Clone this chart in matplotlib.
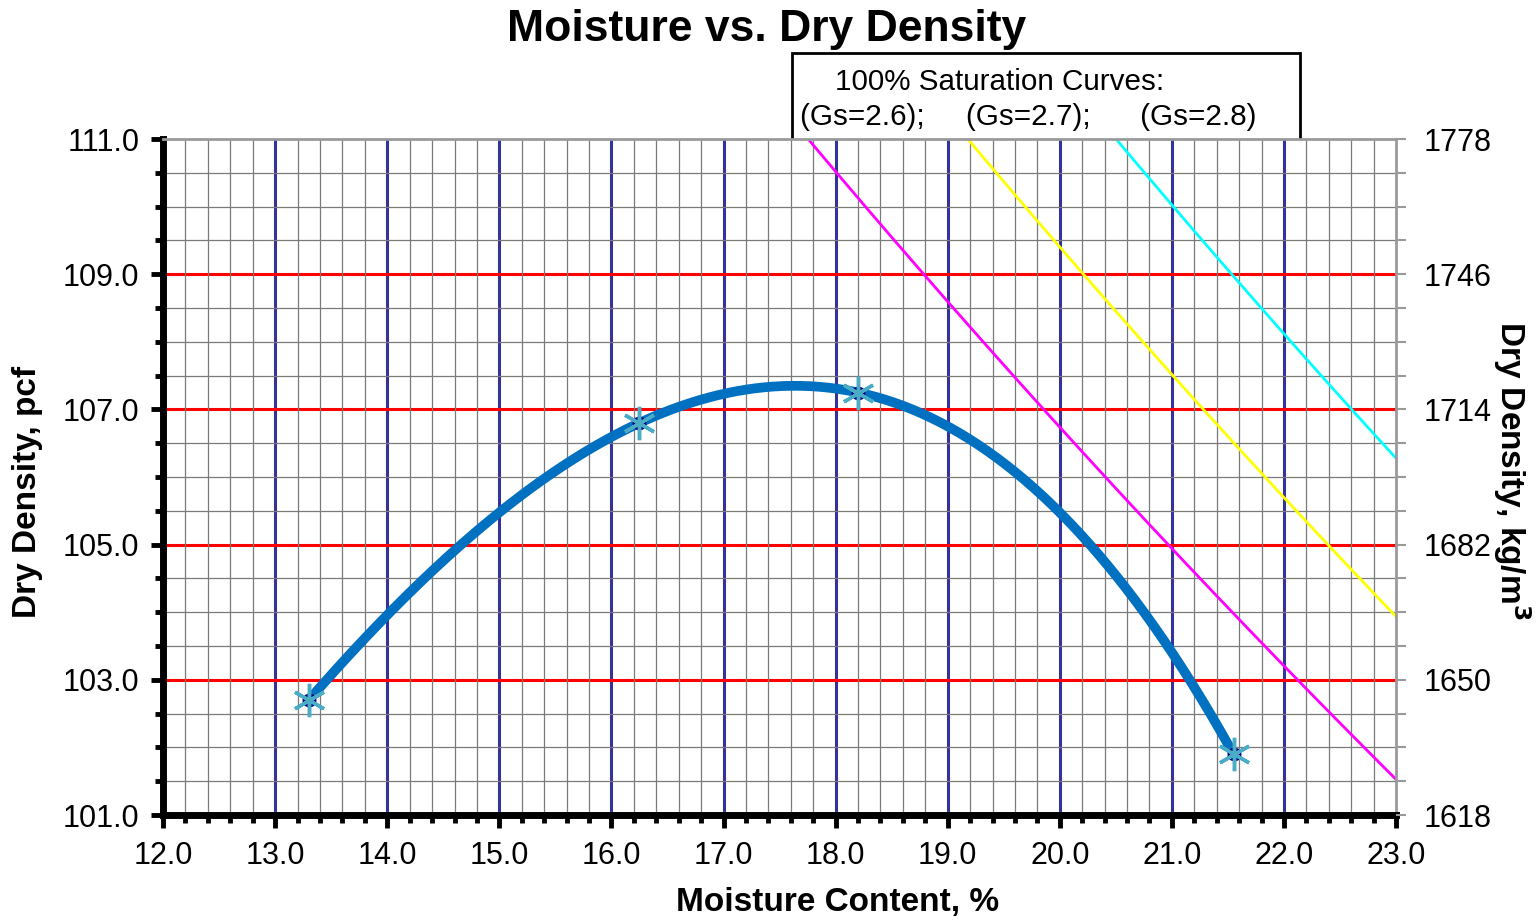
import numpy as np
import matplotlib.pyplot as plt
from matplotlib.ticker import MultipleLocator

plt.rcParams["font.family"] = ["Liberation Sans", "DejaVu Sans"]

# compaction test results
moisture = [13.3, 16.25, 18.2, 21.55]        # %
dry_density = [102.7, 106.8, 107.25, 101.9]  # pcf

# zero-air-voids curves
gs_values = [2.6, 2.7, 2.8]
gs_colors = ["#FF00FF", "#FFFF00", "#00FFFF"]
gamma_w = 62.4          # pcf
pcf_to_kgm3 = 16.0185

x_ticks = np.arange(12.0, 23.01, 1.0)
y_ticks = np.arange(101.0, 111.01, 2.0)

fig = plt.figure(figsize=(15.37, 9.23), dpi=100)
ax = fig.add_axes([0.1061, 0.117, 0.8022, 0.7324])
ax.set_xlim(12, 23)
ax.set_ylim(101, 111)

# grid
ax.xaxis.set_major_locator(MultipleLocator(1.0))
ax.xaxis.set_minor_locator(MultipleLocator(0.2))
ax.yaxis.set_major_locator(MultipleLocator(2.0))
ax.yaxis.set_minor_locator(MultipleLocator(0.5))
ax.grid(which="minor", color="#7a7a7a", lw=0.9, zorder=0)
for xv in x_ticks[1:-1]:
    ax.axvline(xv, color="#333399", lw=2.2, zorder=1)
for yv in y_ticks[1:-1]:
    ax.axhline(yv, color="#FF0000", lw=2.2, zorder=1)

# saturation lines
w = np.linspace(12, 23, 300)
for gs, c in zip(gs_values, gs_colors):
    rho = gs * gamma_w / (1 + w / 100 * gs)
    ax.plot(w, rho, color=c, lw=2, zorder=2)

# compaction curve (cubic trendline through the points)
coef = np.polyfit(moisture, dry_density, 3)
wc = np.linspace(min(moisture), max(moisture), 200)
ax.plot(wc, np.polyval(coef, wc), color="#0070C0", lw=7, zorder=3,
        solid_capstyle="butt")
ax.plot(moisture, dry_density, ls="none", marker="o", ms=9,
        color="#000080", zorder=4)
ax.plot(moisture, dry_density, ls="none", marker=(6, 2, 0), ms=24,
        mec="#4BACC6", mew=2.5, zorder=5)

# axes styling
ax.set_xticks(x_ticks)
ax.set_xticklabels([f"{v:.1f}" for v in x_ticks])
ax.set_yticks(y_ticks)
ax.set_yticklabels([f"{v:.1f}" for v in y_ticks])
ax.tick_params(which="both", direction="out", width=3.5, color="black",
               labelsize=22)
ax.tick_params(which="major", length=9)
ax.tick_params(axis="x", which="major", pad=10)
ax.tick_params(axis="y", which="major", pad=8)
ax.tick_params(which="minor", length=6)
ax.tick_params(axis="y", right=False)
for side in ("left", "bottom"):
    ax.spines[side].set_linewidth(5)
    ax.spines[side].set_color("black")
for side in ("top", "right"):
    ax.spines[side].set_linewidth(2)
    ax.spines[side].set_color("#9a9a9a")

ax.set_xlabel("Moisture Content, %", fontsize=24, fontweight="bold",
              va="center")
ax.xaxis.set_label_coords(0.547, -0.130)
ax.set_ylabel("Dry Density, pcf", fontsize=24, fontweight="bold",
              va="center")
ax.yaxis.set_label_coords(-0.110, 0.478)

# metric axis on the right
ax2 = ax.twinx()
ax2.set_ylim(ax.get_ylim())
ax2.set_yticks(y_ticks)
ax2.set_yticklabels([f"{v * pcf_to_kgm3:.0f}" for v in y_ticks])
ax2.yaxis.set_minor_locator(MultipleLocator(0.5))
ax2.tick_params(which="both", direction="out", color="#9a9a9a", width=1.5,
                labelsize=22, length=7, pad=12.5)
for s in ax2.spines.values():
    s.set_visible(False)
ax2.set_ylabel("Dry Density, kg/m$^\\mathbf{3}$", fontsize=24,
               fontweight="bold", rotation=-90, va="center")
ax2.yaxis.set_label_coords(1.094, 0.51)

fig.suptitle("Moisture vs. Dry Density", fontsize=32, fontweight="bold",
             x=0.499, y=0.99)

fig.text(0.5433, 0.911, "100% Saturation Curves:", fontsize=21.3,
         ha="left", va="center")
fig.text(0.5205, 0.873,
         "(Gs=2.6);     (Gs=2.7);      (Gs=2.8)", fontsize=21.3,
         ha="left", va="center")
box = plt.Rectangle((0.5153, 0.845), 0.3305, 0.098, transform=fig.transFigure,
                    fill=True, facecolor="white", edgecolor="black", lw=2,
                    zorder=-1)
fig.patches.append(box)

fig.savefig("out.png", dpi=100)
